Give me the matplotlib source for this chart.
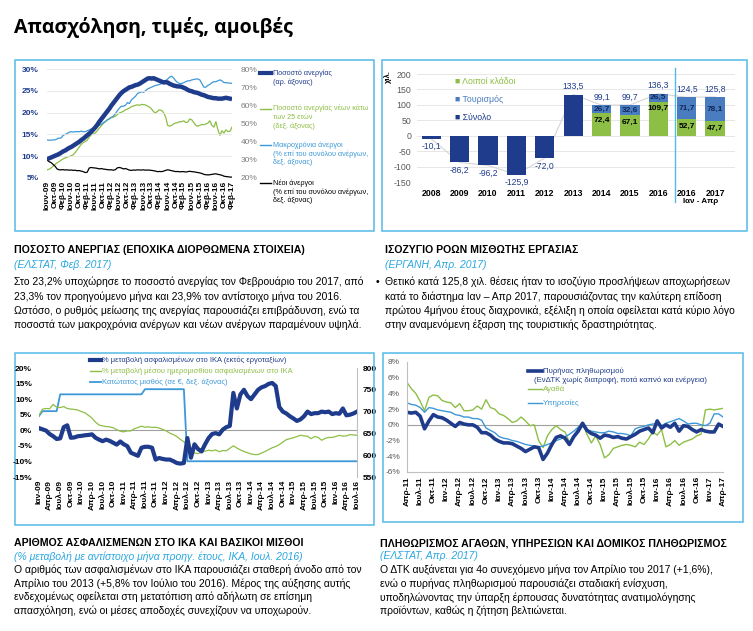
import numpy as np
import matplotlib
matplotlib.use("Agg")
import matplotlib.pyplot as plt
from matplotlib.lines import Line2D
from matplotlib.patches import Rectangle

plt.rcParams['font.family'] = ['Liberation Sans', 'DejaVu Sans']

W, H = 753, 631
NAVY = '#1F3C8C'
GREEN = '#8DBE45'
LBLUE = '#3D98D8'
TOUR = '#4A7CC0'
BOX = '#55BBE6'
CYAN = '#2AA7DF'
GRAY = '#595959'

# ---------- chart 1: unemployment (Jun-09 .. Feb-17, monthly) ----------
unemp = [9.3, 9.5, 9.7, 9.9, 10.1, 10.3, 10.5, 10.8, 11.1, 11.3,
         11.6, 11.9, 12.1, 12.4, 12.7, 13.0, 13.3, 13.7, 14.0, 14.4,
         14.8, 15.2, 15.6, 16.1, 16.6, 17.2, 17.9, 18.5, 19.1, 19.7,
         20.3, 20.9, 21.6, 22.2, 22.8, 23.4, 24.0, 24.5, 24.9, 25.2,
         25.5, 25.8, 25.9, 26.1, 26.3, 26.4, 26.6, 26.9, 27.2, 27.5,
         27.8, 27.9, 27.8, 27.9, 27.7, 27.5, 27.3, 27.1, 26.9, 27.0,
         26.9, 26.6, 26.4, 26.2, 26.1, 26.0, 26.0, 25.9, 25.7, 25.5,
         25.2, 25.0, 24.9, 24.7, 24.6, 24.5, 24.3, 24.1, 24.0, 23.8,
         23.6, 23.5, 23.4, 23.3, 23.3, 23.2, 23.2, 23.2, 23.3, 23.4,
         23.3, 23.2, 23.1]
youth = [24.5, 24.8, 25.5, 26.5, 27.5, 28.3, 29.0, 29.8, 30.5, 31.0,
         31.5, 31.8, 32.2, 32.8, 34.0, 35.5, 37.0, 38.5, 39.5, 40.0,
         40.8, 42.5, 43.8, 44.3, 44.8, 46.0, 47.5, 48.7, 50.0, 51.0,
         52.0, 52.8, 53.2, 53.5, 54.0, 55.0, 55.8, 56.2, 56.8, 57.5,
         58.0, 58.5, 59.3, 59.6, 60.0, 60.3, 60.0, 60.5, 60.4, 60.2,
         59.6, 59.0, 58.0, 56.5, 55.8, 56.8, 57.5, 57.2, 56.0, 53.5,
         49.0, 48.5, 49.0, 49.8, 50.3, 50.5, 51.0, 51.0, 51.5, 50.5,
         50.8, 52.5, 52.0, 50.5, 49.0, 48.5, 49.0, 49.5, 49.3, 49.8,
         50.2, 51.5, 49.0, 48.0, 51.0, 46.5, 43.5, 46.0, 44.8, 46.5,
         45.5, 45.8, 48.0]
longterm = [41.0, 40.8, 40.8, 41.0, 41.0, 41.5, 42.0, 42.0, 43.5, 44.0,
            44.5, 45.2, 45.5, 45.3, 45.5, 45.5, 45.5, 45.8, 45.5, 45.5,
            46.0, 46.5, 47.0, 47.5, 48.0, 48.5, 49.0, 49.5, 50.5, 51.0,
            52.0, 52.5, 53.5, 54.0, 55.5, 57.0, 58.5, 59.5, 59.5, 60.0,
            61.5, 61.0, 63.0, 64.0, 65.0, 66.5, 67.0, 67.5, 67.2, 68.0,
            69.0, 69.5, 70.0, 70.5, 71.0, 71.2, 71.5, 72.0, 72.5, 73.5,
            74.5, 75.5, 76.0, 75.0, 73.5, 72.5, 72.0, 72.0, 72.5, 73.0,
            73.5, 73.5, 74.0, 74.2, 74.5, 74.5, 74.0, 72.0, 70.0, 70.0,
            71.0, 71.5, 72.5, 73.0, 73.0, 73.5, 74.0, 73.5, 72.5, 72.5,
            72.3, 72.3, 72.0]
newent = [30.0, 29.0, 28.5, 27.5, 26.5, 25.0, 24.5, 24.5, 24.6, 24.4,
          24.5, 24.3, 24.4, 24.2, 24.3, 24.0, 24.1, 23.8, 23.5, 23.0,
          23.2, 25.5, 25.8, 25.6, 25.5, 25.3, 25.0, 25.2, 24.9, 24.8,
          24.6, 24.5, 24.5, 24.3, 24.6, 25.6, 25.8, 25.5, 25.0, 25.2,
          24.8, 24.3, 24.2, 24.4, 24.3, 24.5, 24.4, 24.4, 24.5, 24.3,
          24.4, 24.3, 24.2, 24.0, 23.8, 23.5, 23.6, 23.5, 23.8, 24.2,
          24.5, 24.3, 24.0, 23.8, 23.5, 23.6, 23.4, 23.5, 23.5, 23.3,
          23.5, 23.7, 23.5, 23.4, 23.2, 23.0, 22.8, 22.5, 22.0, 21.8,
          21.7, 21.8, 22.0, 22.2, 22.3, 22.0, 21.8, 21.5, 21.0, 20.8,
          20.7, 20.5, 20.5]
labels1 = ['Ιουν-09', 'Οκτ-09', 'Φεβ-10', 'Ιουν-10', 'Οκτ-10', 'Φεβ-11',
           'Ιουν-11', 'Οκτ-11', 'Φεβ-12', 'Ιουν-12', 'Οκτ-12', 'Φεβ-13',
           'Ιουν-13', 'Οκτ-13', 'Φεβ-14', 'Ιουν-14', 'Οκτ-14', 'Φεβ-15',
           'Ιουν-15', 'Οκτ-15', 'Φεβ-16', 'Ιουν-16', 'Οκτ-16', 'Φεβ-17']

# ---------- chart 2: ERGANI balance ----------
years2 = ['2008', '2009', '2010', '2011', '2012', '2013', '2014', '2015',
          '2016', '2016', '2017']
totals2 = [-10.1, -86.2, -96.2, -125.9, -72.0, 133.5, 99.1, 99.7, 136.3,
           124.5, 125.8]
others2 = [72.4, 67.1, 109.7, 52.7, 47.7]
tourism2 = [26.7, 32.6, 26.5, 71.7, 78.1]

# ---------- chart 3: IKA (Jan-09 .. Jul-16, monthly) ----------
insured = [0.7, 0.3, -0.1, -1.2, -1.9, -2.8, -2.6, 1.0, 1.6, -2.4,
           -2.3, -1.9, -1.8, -1.6, -1.5, -1.3, -2.4, -3.0, -3.5, -3.0,
           -3.4, -4.0, -4.6, -3.6, -4.5, -5.1, -7.2, -7.7, -8.2, -5.6,
           -5.3, -5.3, -5.6, -9.4, -8.9, -9.2, -9.4, -9.4, -9.9, -10.5,
           -10.7, -10.5, -2.5, -8.8, -4.5, -6.0, -6.8, -4.5, -2.5, -1.2,
           -0.9, -1.3, 0.2, 1.0, 1.4, 12.0, 7.0, 11.5, 13.0, 11.0,
           10.0, 11.5, 13.0, 13.8, 14.2, 14.9, 15.2, 14.2, 7.5, 6.0,
           5.4, 4.5, 3.8, 3.0, 3.5, 4.5, 6.0, 5.2, 5.5, 5.5,
           6.0, 5.8, 6.0, 5.2, 5.5, 5.3, 7.0, 4.8, 5.0, 5.4, 6.0]
wage = [4.8, 6.8, 7.0, 6.9, 8.3, 7.4, 7.3, 7.6, 7.0, 6.8,
        6.7, 6.5, 6.0, 5.6, 4.8, 3.9, 2.6, 1.7, 1.4, 1.2,
        1.1, 0.8, 0.2, -0.3, -0.5, -0.2, -0.2, 0.5, 0.9, 1.3,
        1.0, 1.1, 0.9, 1.0, 0.7, 0.3, -0.2, -0.9, -1.4, -2.0,
        -2.9, -3.7, -4.6, -5.8, -7.3, -7.5, -7.0, -6.7, -6.4, -6.6,
        -6.3, -6.9, -6.5, -6.6, -5.8, -5.0, -5.7, -6.3, -6.8, -7.2,
        -7.6, -7.8, -7.8, -7.3, -6.8, -6.2, -5.6, -5.2, -4.6, -3.8,
        -3.0, -2.7, -2.4, -2.0, -1.6, -1.8, -1.9, -2.7, -2.0, -2.3,
        -3.2, -2.6, -2.3, -2.3, -2.0, -1.6, -1.9, -1.8, -1.4, -1.5, -1.6]
minwage_m = [0, 1, 5, 6, 29, 30, 41, 42, 90]
minwage_v = [690, 701, 701, 739.6, 739.6, 751.4, 751.4, 586.1, 586.1]
labels3 = ['Ιαν-09', 'Απρ-09', 'Ιουλ-09', 'Οκτ-09', 'Ιαν-10', 'Απρ-10',
           'Ιουλ-10', 'Οκτ-10', 'Ιαν-11', 'Απρ-11', 'Ιουλ-11', 'Οκτ-11',
           'Ιαν-12', 'Απρ-12', 'Ιουλ-12', 'Οκτ-12', 'Ιαν-13', 'Απρ-13',
           'Ιουλ-13', 'Οκτ-13', 'Ιαν-14', 'Απρ-14', 'Ιουλ-14', 'Οκτ-14',
           'Ιαν-15', 'Απρ-15', 'Ιουλ-15', 'Οκτ-15', 'Ιαν-16', 'Απρ-16',
           'Ιουλ-16']

# ---------- chart 4: inflation (Apr-11 .. Apr-17, monthly) ----------
core = [1.6, 1.5, 1.6, 1.1, -0.5, 0.5, 1.3, 1.0, 0.9, 0.6,
        0.2, -0.2, 0.3, 0.1, 0.0, 0.0, -0.3, -1.0, -1.0, -1.3,
        -1.8, -2.1, -2.3, -2.3, -2.4, -2.7, -3.0, -3.4, -3.1, -2.8,
        -2.9, -4.4, -3.6, -2.5, -1.6, -1.4, -1.7, -2.5, -1.5, -0.8,
        0.2, -0.7, -1.1, -1.3, -1.7, -1.3, -1.4, -1.6, -1.5, -1.7,
        -1.8, -1.5, -1.2, -0.8, -0.6, -0.4, -1.0, 0.5, -0.4, 0.0,
        -0.3, 0.2, -0.8, -0.1, -0.2, -0.6, -0.9, -0.6, -0.8, -0.9,
        -0.9, 0.1, -0.2]
goods = [5.4, 4.6, 4.0, 3.0, 1.8, 3.5, 3.8, 3.7, 3.1, 2.9,
         2.8, 2.2, 2.7, 1.8, 1.8, 1.9, 2.4, 2.0, 3.2, 2.2,
         2.0, 1.4, 1.2, 0.8, 0.3, 0.5, 1.0, 0.5, -0.1, 0.0,
         -2.0, -2.9, -1.4, -0.6, -0.1, -0.6, -0.9, -2.2, -1.6, -0.3,
         0.3, -1.2, -2.3, -1.4, -2.5, -4.2, -3.8, -3.0, -2.8, -2.6,
         -2.5, -2.6, -2.8, -2.2, -2.5, -1.8, -0.9, -1.3, -0.6, -2.8,
         -2.5, -2.0, -2.6, -2.2, -2.0, -1.8, -1.4, -1.2, 1.9, 2.0,
         1.9, 2.0, 2.1]
services = [2.8, 2.6, 2.5, 2.2, 1.6, 2.2, 2.1, 1.9, 1.8, 1.7,
            1.6, 1.3, 1.2, 1.0, 1.0, 0.8, 0.8, 0.6, -0.4, -0.7,
            -1.0, -1.5, -1.7, -1.8, -2.0, -2.1, -2.3, -2.5, -2.6, -2.7,
            -2.8, -2.7, -2.5, -2.3, -2.0, -1.8, -1.5, -1.2, -0.8, -0.3,
            -0.2, -0.6, -0.8, -0.9, -1.0, -1.0, -0.8, -0.9, -1.1, -1.1,
            -1.2, -1.4, -0.5, -0.3, -0.2, 0.0, 0.1, 0.2, -0.1, 0.2,
            0.4, 0.6, 0.8, 0.5, 0.1, 0.2, 0.2, 0.0, -0.1, 0.2,
            1.4, 1.4, 1.0]
labels4 = ['Απρ-11', 'Ιουλ-11', 'Οκτ-11', 'Ιαν-12', 'Απρ-12', 'Ιουλ-12',
           'Οκτ-12', 'Ιαν-13', 'Απρ-13', 'Ιουλ-13', 'Οκτ-13', 'Ιαν-14',
           'Απρ-14', 'Ιουλ-14', 'Οκτ-14', 'Ιαν-15', 'Απρ-15', 'Ιουλ-15',
           'Οκτ-15', 'Ιαν-16', 'Απρ-16', 'Ιουλ-16', 'Οκτ-16', 'Ιαν-17',
           'Απρ-17']


fig = plt.figure(figsize=(W / 100, H / 100), dpi=100)


def rect(x0, y0, x1, y1):
    return [x0 / W, 1 - y1 / H, (x1 - x0) / W, (y1 - y0) / H]


def box(x0, y0, x1, y1):
    fig.add_artist(Rectangle((x0 / W, 1 - y1 / H), (x1 - x0) / W, (y1 - y0) / H,
                             transform=fig.transFigure, fill=False, ec=BOX, lw=1.1))


def ftext(x, y, s, **kw):
    kw.setdefault('va', 'center')
    fig.text(x / W, 1 - y / H, s, **kw)


def fline(x0, x1, y0, y1, **kw):
    fig.add_artist(Line2D([x0 / W, x1 / W], [1 - y0 / H, 1 - y1 / H],
                          transform=fig.transFigure, **kw))


def clean(ax):
    for s in ax.spines.values():
        s.set_visible(False)
    ax.tick_params(length=0)


def fmt(v):
    return f"{v:.1f}".replace('.', ',')


# title
ftext(14, 27, "Απασχόληση, τιμές, αμοιβές", fontsize=14, fontweight='bold',
      family=['Open Sans', 'DejaVu Sans'])

# panel boxes
box(15, 60, 374, 231)
box(382, 60, 747, 231)
box(15, 353, 374, 525)
box(383, 353, 743, 522)

# ===== chart 1 =====
ax1 = fig.add_axes(rect(47, 69, 232, 178))
ax1r = ax1.twinx()
ax1.set_zorder(ax1r.get_zorder() + 1)
ax1.patch.set_visible(False)
ax1r.plot(np.arange(len(youth)), youth, color=GREEN, lw=0.9)
ax1r.plot(np.arange(len(longterm)), longterm, color=LBLUE, lw=0.9)
ax1r.plot(np.arange(len(newent)), newent, color='black', lw=0.9)
ax1.plot(np.arange(len(unemp)), unemp, color=NAVY, lw=3.2, solid_capstyle='butt')
ax1.set_xlim(0, 92)
ax1.set_ylim(5, 30)
ax1r.set_ylim(20, 80)
ax1.set_yticks([5, 10, 15, 20, 25, 30])
ax1.set_yticklabels([f"{v}%" for v in [5, 10, 15, 20, 25, 30]],
                    color=NAVY, fontweight='bold', fontsize=6)
ax1r.set_yticks([20, 30, 40, 50, 60, 70, 80])
ax1r.set_yticklabels([f"{v}%" for v in [20, 30, 40, 50, 60, 70, 80]],
                     color='#7F7F7F', fontsize=6)
ax1.set_xticks(range(0, 93, 4))
ax1.set_xticklabels(labels1, rotation=90, fontsize=6, fontweight='bold')
ax1.yaxis.grid(True, color='#E6E6E6', lw=0.6)
clean(ax1)
clean(ax1r)
ax1.tick_params(axis='x', pad=2)
ax1.tick_params(axis='y', pad=6)
ax1r.tick_params(axis='y', pad=6)

leg1 = [(NAVY, 3.0, 73, ["Ποσοστό ανεργίας", "(αρ. άξονας)"]),
        (GREEN, 1.0, 108.5, ["Ποσοστό ανεργίας νέων κάτω", "των 25 ετών", "(δεξ. άξονας)"]),
        (LBLUE, 1.0, 145, ["Μακροχρόνια άνεργοι", "(% επί του συνόλου ανέργων,", "δεξ. άξονας)"]),
        ('black', 1.0, 183, ["Νέοι άνεργοι", "(% επί του συνόλου ανέργων,", "δεξ. άξονας)"])]
for col, lw, y, lines in leg1:
    fline(260, 271, y, y, color=col, lw=lw)
    for k, s in enumerate(lines):
        ftext(273, y + k * 8.8, s, color=col, fontsize=5.2)

# ===== chart 2 =====
ax2 = fig.add_axes(rect(417, 74, 735, 182))
x2 = np.arange(len(totals2))
ax2.yaxis.grid(True, color='#E3E3E3', lw=0.6)
ax2.set_axisbelow(True)
ax2.plot(x2, totals2, color='#D5D5D5', lw=0.8, zorder=1)
ax2.bar(x2[:6], totals2[:6], width=0.68, color=NAVY, zorder=2)
ax2.bar(x2[6:], others2, width=0.68, color=GREEN, zorder=2)
ax2.bar(x2[6:], tourism2, width=0.68, bottom=others2, color=TOUR, zorder=2)
for i, v in enumerate(totals2):
    if v < 0:
        ax2.annotate(fmt(v), (i, v), xytext=(0, -2.5), textcoords='offset points',
                     ha='center', va='top', color=NAVY, fontsize=6.2)
    else:
        top = v if i < 6 else others2[i - 6] + tourism2[i - 6]
        ax2.annotate(fmt(v), (i, top), xytext=(0, 2.5), textcoords='offset points',
                     ha='center', va='bottom', color=NAVY, fontsize=6.2)
for j, (o, t) in enumerate(zip(others2, tourism2)):
    i = j + 6
    ax2.text(i, o + t / 2, fmt(t), ha='center', va='center', color='#13285E',
             fontsize=6, fontweight='bold', zorder=3)
    ax2.annotate(fmt(o), (i, o), xytext=(0, -2.5), textcoords='offset points',
                 ha='center', va='top', color='black', fontsize=6,
                 fontweight='bold', zorder=3)
ax2.set_xlim(-0.5, 10.7)
ax2.set_ylim(-150, 200)
ax2.set_yticks(range(-150, 201, 50))
ax2.set_yticklabels([str(v) for v in range(-150, 201, 50)], color=GRAY, fontsize=6.3)
ax2.set_xticks(x2)
ax2.set_xticklabels(years2, fontsize=6.3, fontweight='bold')
clean(ax2)
ax2.tick_params(axis='x', pad=5)
ax2.tick_params(axis='y', pad=4)
ftext(388, 77, "χιλ.", rotation=90, ha='center', fontsize=5.5, fontweight='bold')
fline(675, 675, 68, 202, color=BOX, lw=1.0)
ftext(701, 201, "Ιαν - Απρ", ha='center', fontsize=5.8, fontweight='bold')
leg2 = [(GREEN, 82, "Λοιποί κλάδοι"), (TOUR, 99.5, "Τουρισμός"), (NAVY, 117, "Σύνολο")]
for col, y, s in leg2:
    ftext(455, y, "■ " + s, color=col, fontsize=6.3)

# ===== chart 3 =====
ax3 = fig.add_axes(rect(39, 368, 357, 477))
ax3r = ax3.twinx()
ax3.set_zorder(ax3r.get_zorder() + 1)
ax3.patch.set_visible(False)
ax3.axhline(0, color='#A0A0A0', lw=0.8)
ax3r.plot(minwage_m, minwage_v, color=LBLUE, lw=1.3)
ax3.plot(np.arange(len(wage)), wage, color=GREEN, lw=0.9)
ax3.plot(np.arange(len(insured)), insured, color=NAVY, lw=3.0)
ax3.set_xlim(0, 90)
ax3.set_ylim(-15, 20)
ax3r.set_ylim(550, 800)
ax3.set_yticks(range(-15, 21, 5))
ax3.set_yticklabels([f"{v}%" for v in range(-15, 21, 5)], fontsize=6, fontweight='bold')
ax3r.set_yticks(range(550, 801, 50))
ax3r.set_yticklabels([str(v) for v in range(550, 801, 50)], fontsize=6, fontweight='bold')
ax3.set_xticks(range(0, 91, 3))
ax3.set_xticklabels(labels3, rotation=90, fontsize=6, fontweight='bold')
clean(ax3)
clean(ax3r)
ax3r.spines['right'].set_visible(True)
ax3r.spines['right'].set_color('#BFBFBF')
ax3r.spines['right'].set_linewidth(0.8)
ax3.tick_params(axis='x', pad=2)
ax3.tick_params(axis='y', pad=5)
ax3r.tick_params(axis='y', pad=4)
leg3 = [(NAVY, 3.0, 360, "% μεταβολή ασφαλισμένων στο ΙΚΑ (εκτός εργοταξίων)"),
        (GREEN, 1.0, 371, "% μεταβολή μέσου ημερομισθίου ασφαλισμένων στο ΙΚΑ"),
        (LBLUE, 1.3, 382, "Κατώτατος μισθός (σε €, δεξ. άξονας)")]
for col, lw, y, s in leg3:
    fline(90, 101, y, y, color=col, lw=lw)
    ftext(102, y, s, color=col, fontsize=5.4)

# ===== chart 4 =====
ax4 = fig.add_axes(rect(407, 362, 723, 472))
ax4.axhline(0, color='#A0A0A0', lw=0.8)
ax4.plot(np.arange(len(goods)), goods, color=GREEN, lw=1.0)
ax4.plot(np.arange(len(services)), services, color=LBLUE, lw=1.0)
ax4.plot(np.arange(len(core)), core, color=NAVY, lw=2.6)
ax4.set_xlim(0, 72)
ax4.set_ylim(-6, 8)
ax4.set_yticks(range(-6, 9, 2))
ax4.set_yticklabels([f"{v}%" for v in range(-6, 9, 2)], color=GRAY, fontsize=6)
ax4.set_xticks(range(0, 73, 3))
ax4.set_xticklabels(labels4, rotation=90, fontsize=6, fontweight='bold')
clean(ax4)
for side in ['left', 'bottom']:
    ax4.spines[side].set_visible(True)
    ax4.spines[side].set_color('#BFBFBF')
    ax4.spines[side].set_linewidth(0.8)
ax4.tick_params(axis='x', pad=3)
ax4.tick_params(axis='y', pad=5)
fline(528, 542, 371, 371, color=NAVY, lw=2.6)
ftext(543, 371, "Πυρήνας πληθωρισμού", color=NAVY, fontsize=5.6)
ftext(534, 380, "(ΕνΔΤΚ χωρίς διατροφή, ποτά καπνό και ενέργεια)", color=NAVY, fontsize=5.6)
fline(528, 542, 389, 389, color=GREEN, lw=1.0)
ftext(543, 389, "Αγαθά", color=GREEN, fontsize=5.6)
fline(528, 542, 403, 403, color=LBLUE, lw=1.0)
ftext(543, 403, "Υπηρεσίες", color=LBLUE, fontsize=5.6)

# ===== text blocks =====
BODY = 7.45
HEAD = 7.6
blocks = [
    (14, 250, "ΠΟΣΟΣΤΟ ΑΝΕΡΓΙΑΣ (ΕΠΟΧΙΚΑ ΔΙΟΡΘΩΜΕΝΑ ΣΤΟΙΧΕΙΑ)", "(ΕΛΣΤΑΤ, Φεβ. 2017)",
     ["Στο 23,2% υποχώρησε το ποσοστό ανεργίας τον Φεβρουάριο του 2017, από",
      "23,3% τον προηγούμενο μήνα και 23,9% τον αντίστοιχο μήνα του 2016.",
      "Ωστόσο, ο ρυθμός μείωσης της ανεργίας παρουσιάζει επιβράδυνση, ενώ τα",
      "ποσοστά των μακροχρόνια ανέργων και νέων ανέργων παραμένουν υψηλά."], 14.4),
    (385, 250, "ΙΣΟΖΥΓΙΟ ΡΟΩΝ ΜΙΣΘΩΤΗΣ ΕΡΓΑΣΙΑΣ", "(ΕΡΓΑΝΗ, Απρ. 2017)",
     ["Θετικό κατά 125,8 χιλ. θέσεις ήταν το ισοζύγιο προσλήψεων αποχωρήσεων",
      "κατά το διάστημα Ιαν – Απρ 2017, παρουσιάζοντας την καλύτερη επίδοση",
      "πρώτου 4μήνου έτους διαχρονικά, εξέλιξη η οποία οφείλεται κατά κύριο λόγο",
      "στην αναμενόμενη έξαρση της τουριστικής δραστηριότητας."], 14.4),
    (14, 543, "ΑΡΙΘΜΟΣ ΑΣΦΑΛΙΣΜΕΝΩΝ ΣΤΟ ΙΚΑ ΚΑΙ ΒΑΣΙΚΟΙ ΜΙΣΘΟΙ",
     "(% μεταβολή με αντίστοιχο μήνα προηγ. έτους, ΙΚΑ, Ιουλ. 2016)",
     ["Ο αριθμός των ασφαλισμένων στο ΙΚΑ παρουσιάζει σταθερή άνοδο από τον",
      "Απρίλιο του 2013 (+5,8% τον Ιούλιο του 2016). Μέρος της αύξησης αυτής",
      "ενδεχομένως οφείλεται στη μετατόπιση από αδήλωτη σε επίσημη",
      "απασχόληση, ενώ οι μέσες αποδοχές συνεχίζουν να υποχωρούν."], 13.6),
    (380, 543, "ΠΛΗΘΩΡΙΣΜΟΣ ΑΓΑΘΩΝ, ΥΠΗΡΕΣΙΩΝ ΚΑΙ ΔΟΜΙΚΟΣ ΠΛΗΘΩΡΙΣΜΟΣ", "(ΕΛΣΤΑΤ, Απρ. 2017)",
     ["Ο ΔΤΚ αυξάνεται για 4ο συνεχόμενο μήνα τον Απρίλιο του 2017 (+1,6%),",
      "ενώ ο πυρήνας πληθωρισμού παρουσιάζει σταδιακή ενίσχυση,",
      "υποδηλώνοντας την ύπαρξη έρπουσας δυνατότητας ανατιμολόγησης",
      "προϊόντων, καθώς η ζήτηση βελτιώνεται."], 13.7),
]
for x, y, head, sub, body, step in blocks:
    ftext(x, y, head, fontsize=HEAD, fontweight='bold')
    ftext(x, y + 14.5 if step > 14 else y + 13.3, sub, fontsize=BODY, style='italic', color=CYAN)
    y0 = y + 32 if step > 14 else y + 27
    for k, s in enumerate(body):
        ftext(x, y0 + k * step, s, fontsize=BODY)
ftext(376, 282, "•", fontsize=BODY)

fig.savefig("out.png", dpi=100)
